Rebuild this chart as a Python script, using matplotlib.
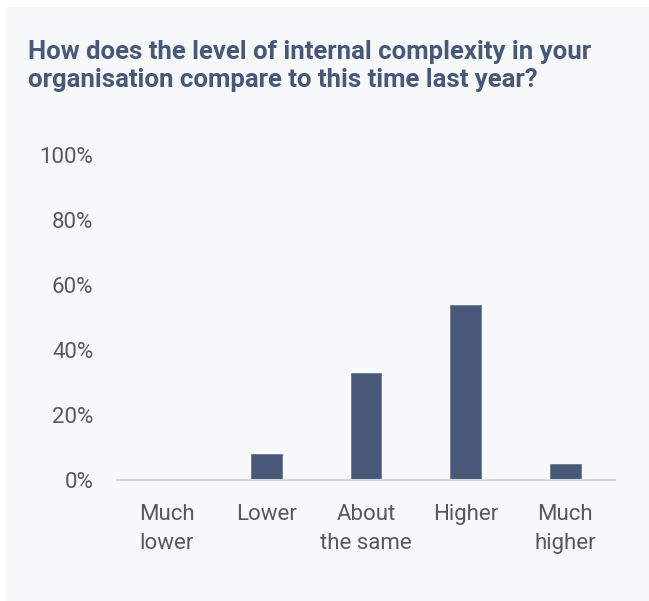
import matplotlib.pyplot as plt
from matplotlib.patches import Rectangle
from matplotlib import ticker

categories = ["Much\nlower", "Lower", "About\nthe same", "Higher", "Much\nhigher"]
shares = [0, 8, 33, 54, 5]
yticks = [0, 20, 40, 60, 80, 100]

title = "How does the level of internal complexity in your\norganisation compare to this time last year?"

bar_colour = "#475878"
text_colour = "#595959"
panel_colour = "#f7f8fa"

plt.rcParams['font.family'] = ['Roboto', 'DejaVu Sans']

fig = plt.figure(figsize=(6.49, 6.01), dpi=100)
fig.patch.set_facecolor("white")

# light panel behind everything
fig.patches.append(Rectangle((6 / 649, 0), 1, 1 - 7 / 601, transform=fig.transFigure,
                             facecolor=panel_colour, edgecolor="none", zorder=-1))

fig.text(28 / 649, 1 - 40 / 601, title, ha="left", va="top", fontsize=18.5,
         fontweight="bold", color=bar_colour, linespacing=1.2)

ax = fig.add_axes([117 / 649, 1 - 480 / 601, 498 / 649, 325 / 601])
ax.set_facecolor("none")

x = range(len(categories))
ax.bar(x, shares, width=0.31, color=bar_colour, edgecolor="#6a7894", linewidth=0.6, zorder=2)

ax.set_xlim(-0.5, len(categories) - 0.5)
ax.set_ylim(0, 100)
ax.set_yticks(yticks)
ax.yaxis.set_major_formatter(ticker.FuncFormatter(lambda v, p: f"{v:.0f}%"))
ax.set_xticks(list(x))
ax.set_xticklabels(categories, linespacing=1.55)

for side in ("top", "right", "left"):
    ax.spines[side].set_visible(False)
ax.spines["bottom"].set_color("#d9d9d9")
ax.spines["bottom"].set_linewidth(1.5)

ax.tick_params(axis="y", length=0, pad=17, labelsize=16, labelcolor=text_colour)
ax.tick_params(axis="x", length=0, pad=17, labelsize=16, labelcolor=text_colour)

fig.savefig("out.png", dpi=100)
